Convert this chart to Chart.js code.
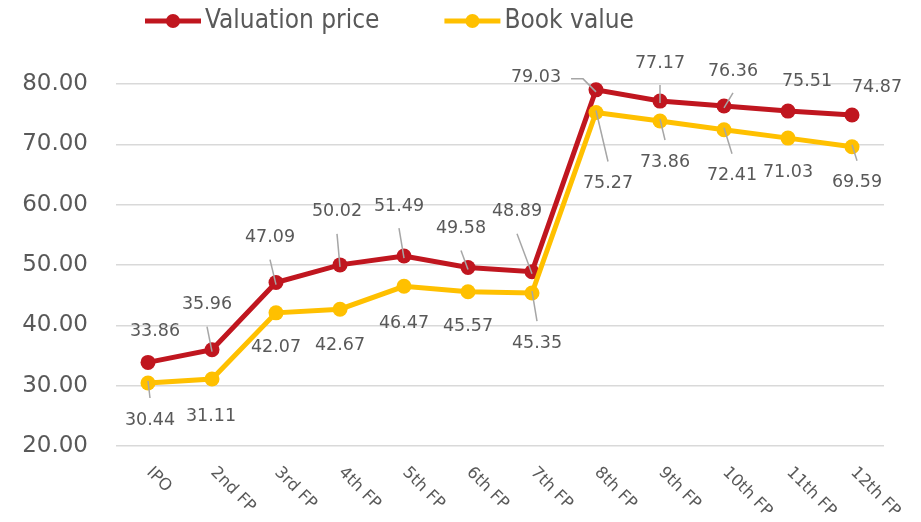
<!DOCTYPE html>
<html>
<head>
<meta charset="utf-8">
<script src="https://cdn.jsdelivr.net/npm/chart.js@4"></script>
<style>
  html, body { margin: 0; padding: 0; background: #fff; }
</style>
</head>
<body>
<canvas id="chart" width="921" height="522"></canvas>
<script>
// values
const periods = ['IPO', '2nd FP', '3rd FP', '4th FP', '5th FP', '6th FP', '7th FP',
                 '8th FP', '9th FP', '10th FP', '11th FP', '12th FP'];
const valuationPrice = [33.86, 35.96, 47.09, 50.02, 51.49, 49.58, 48.89, 79.03, 77.17, 76.36, 75.51, 74.87];
const bookValue = [30.44, 31.11, 42.07, 42.67, 46.47, 45.57, 45.35, 75.27, 73.86, 72.41, 71.03, 69.59];
const yMin = 20, yMax = 80, yStep = 10;

const RED = '#C0161F';
const YELLOW = '#FFC000';
const TEXT = '#595959';
const LEADER = '#A6A6A6';

// where each data label sits relative to its point (px), and whether it gets a leader line
const valLabelShift = [[7,-31],[-5,-45],[-6,-45],[-3,-53],[-5,-50],[-7,-39],[-15,-60],[-60,-12],[0,-38],[9,-35],[19,-30],[25,-27]];
const valLeader = [0,1,1,1,1,1,1,1,1,1,0,0];
const bookLabelShift = [[2,37],[-1,37],[0,35],[0,36],[0,37],[0,35],[5,50],[12,71],[5,41],[8,46],[0,34],[5,36]];
const bookLeader = [1,0,0,0,0,0,1,1,1,1,0,1];

const labelFont = '17.5px "DejaVu Sans", Verdana, sans-serif';

// data labels with leader lines (Excel style)
const dataLabels = {
  id: 'dataLabels',
  afterDatasetsDraw(chart) {
    const ctx = chart.ctx;
    const sets = [[valLabelShift, valLeader], [bookLabelShift, bookLeader]];
    ctx.save();
    ctx.font = labelFont;
    ctx.textAlign = 'center';
    ctx.textBaseline = 'middle';
    chart.data.datasets.forEach((ds, di) => {
      const meta = chart.getDatasetMeta(di);
      const [shift, leader] = sets[di];
      meta.data.forEach((pt, i) => {
        const lx = pt.x + shift[i][0];
        const ly = pt.y + shift[i][1];
        if (leader[i]) {
          ctx.strokeStyle = LEADER;
          ctx.lineWidth = 1.5;
          ctx.beginPath();
          if (Math.abs(shift[i][0]) > Math.abs(shift[i][1])) {
            const w = ctx.measureText(ds.data[i].toFixed(2)).width;
            const sx = lx + Math.sign(-shift[i][0]) * (w / 2 + 10);
            ctx.moveTo(sx, ly + 1);
            ctx.lineTo(sx + Math.sign(-shift[i][0]) * 12, ly + 1);
          } else {
            ctx.moveTo(lx, ly + Math.sign(-shift[i][1]) * 22);
          }
          ctx.lineTo(pt.x, pt.y - Math.sign(shift[i][1]) * 2);
          ctx.stroke();
        }
        ctx.fillStyle = TEXT;
        ctx.fillText(ds.data[i].toFixed(2), lx, ly);
      });
    });
    ctx.restore();
  }
};

// rotated category labels, reading down to the right
const xLabels = {
  id: 'xLabels',
  afterDraw(chart) {
    const ctx = chart.ctx;
    const xs = chart.scales.x;
    ctx.save();
    ctx.font = '16.5px "DejaVu Sans", Verdana, sans-serif';
    ctx.fillStyle = TEXT;
    ctx.textAlign = 'left';
    ctx.textBaseline = 'middle';
    periods.forEach((p, i) => {
      ctx.save();
      ctx.translate(xs.getPixelForValue(i) + 1, xs.top + 24);
      ctx.rotate(Math.PI / 4);
      ctx.fillText(p, 0, 0);
      ctx.restore();
    });
    ctx.restore();
  }
};

// legend: line with a marker in the middle
const lineLegend = {
  id: 'lineLegend',
  afterDraw(chart) {
    const ctx = chart.ctx;
    ctx.save();
    ctx.font = '26px "DejaVu Sans Condensed", "Liberation Sans Narrow", sans-serif';
    ctx.textBaseline = 'middle';
    ctx.textAlign = 'left';
    let x = 145;
    const y = 21;
    chart.data.datasets.forEach(ds => {
      ctx.strokeStyle = ds.borderColor;
      ctx.lineWidth = 5;
      ctx.beginPath();
      ctx.moveTo(x, y);
      ctx.lineTo(x + 56, y);
      ctx.stroke();
      ctx.fillStyle = ds.borderColor;
      ctx.beginPath();
      ctx.arc(x + 28, y, 7, 0, Math.PI * 2);
      ctx.fill();
      ctx.fillStyle = TEXT;
      ctx.fillText(ds.label, x + 60, y);
      x += 60 + ctx.measureText(ds.label).width + 65;
    });
    ctx.restore();
  }
};

new Chart(document.getElementById('chart'), {
  type: 'line',
  data: {
    labels: periods,
    datasets: [{
      label: 'Valuation price',
      data: valuationPrice,
      borderColor: RED,
      backgroundColor: RED,
      borderWidth: 5,
      pointRadius: 7.5,
      pointBorderWidth: 0,
      pointBackgroundColor: RED,
      tension: 0,
      clip: false,
      order: 1
    }, {
      label: 'Book value',
      data: bookValue,
      borderColor: YELLOW,
      backgroundColor: YELLOW,
      borderWidth: 5,
      pointRadius: 7.5,
      pointBorderWidth: 0,
      pointBackgroundColor: YELLOW,
      tension: 0,
      clip: false,
      order: 0
    }]
  },
  options: {
    responsive: false,
    animation: false,
    devicePixelRatio: 1,
    layout: { padding: { top: 84, right: 37, bottom: 0, left: 0 } },
    plugins: {
      legend: { display: false },
      tooltip: { enabled: false }
    },
    scales: {
      x: {
        offset: true,
        grid: { display: false },
        border: { display: false },
        ticks: { display: false },
        afterFit(s) { s.height = 76; }
      },
      y: {
        min: yMin,
        max: yMax,
        grid: { color: '#D9D9D9', lineWidth: 1.5, drawTicks: false },
        border: { display: false },
        ticks: {
          stepSize: yStep,
          padding: 28,
          color: TEXT,
          font: { family: '"DejaVu Sans", Verdana, sans-serif', size: 23 },
          callback: v => v.toFixed(2)
        },
        afterFit(s) { s.width = 116; }
      }
    }
  },
  plugins: [dataLabels, xLabels, lineLegend]
});
</script>
</body>
</html>
